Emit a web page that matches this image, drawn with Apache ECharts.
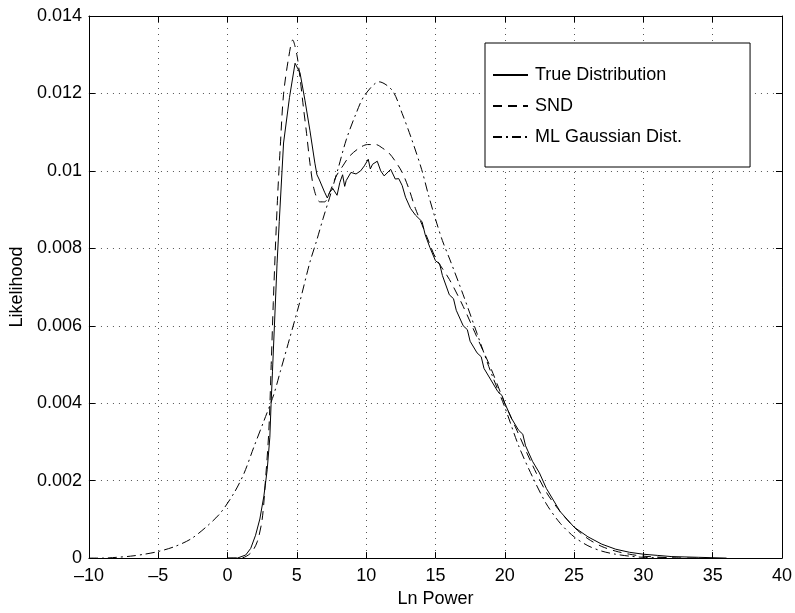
<!DOCTYPE html>
<html>
<head>
<meta charset="utf-8">
<script src="https://cdn.jsdelivr.net/npm/echarts@6/dist/echarts.min.js"></script>
<style>
html,body{margin:0;padding:0;background:#fff;}
#chart{width:795px;height:613px;}
</style>
</head>
<body>
<div id="chart"></div>
<script>
// ---- data ----
const xTicks = [-10, -5, 0, 5, 10, 15, 20, 25, 30, 35, 40];
const yTicks = [0, 0.002, 0.004, 0.006, 0.008, 0.01, 0.012, 0.014];
const seriesNames = ['True Distribution', 'SND', 'ML Gaussian Dist.'];

const trueX = [0, 0.71, 1.31, 1.67, 2.02, 2.33, 2.62, 2.86, 3.05, 3.14, 3.24, 3.57, 3.73, 4.04, 4.47, 4.87, 5.23, 5.59, 5.94, 6.3, 6.45, 6.6, 7.0, 7.2, 7.37, 7.6, 7.9, 8.1, 8.3, 8.45, 8.56, 8.9, 9.27, 9.6, 9.87, 10.15, 10.3, 10.46, 10.8, 11.05, 11.3, 11.77, 12.1, 12.35, 12.6, 12.84, 13.2, 13.55, 14.03, 14.26, 14.6, 15.0, 15.3, 15.5, 16.0, 16.3, 16.5, 17.0, 17.3, 17.5, 18.0, 18.3, 18.5, 19.0, 19.5, 19.8, 20.0, 20.5, 21.0, 21.3, 21.5, 22.0, 22.5, 23.0, 23.5, 24.0, 24.5, 25.0, 26, 27, 28, 29, 30, 31, 32, 33, 34, 35, 36];
const trueY = [0, 0, 0.00008, 0.00025, 0.00059, 0.00101, 0.0016, 0.00228, 0.00312, 0.00397, 0.00481, 0.0076, 0.00869, 0.01072, 0.0119, 0.01278, 0.01253, 0.01181, 0.01105, 0.0102, 0.0099, 0.00979, 0.00945, 0.0093, 0.00945, 0.00954, 0.00937, 0.0097, 0.0099, 0.0096, 0.00975, 0.00996, 0.00992, 0.0100, 0.01013, 0.0103, 0.01005, 0.01017, 0.01025, 0.0100, 0.00987, 0.01004, 0.00979, 0.0098, 0.00962, 0.00932, 0.00903, 0.00886, 0.00869, 0.00835, 0.00802, 0.00768, 0.0076, 0.0073, 0.0068, 0.0067, 0.0064, 0.0060, 0.0059, 0.0056, 0.0053, 0.0052, 0.0049, 0.0046, 0.0043, 0.0042, 0.0040, 0.0036, 0.0033, 0.0032, 0.0029, 0.0025, 0.0022, 0.0018, 0.0015, 0.0012, 0.0010, 0.0008, 0.00055, 0.00036, 0.00023, 0.00015, 0.0001, 0.00007, 0.00004, 0.00003, 0.00002, 0.00001, 0];

const sndX = [0, 0.95, 1.67, 2.14, 2.5, 2.74, 2.98, 3.15, 3.3, 3.45, 3.62, 3.8, 4.04, 4.4, 4.7, 5.0, 5.23, 5.47, 5.7, 5.94, 6.23, 6.66, 7.0, 7.37, 7.85, 8.32, 8.8, 9.5, 10.1, 10.7, 11.17, 11.65, 12.1, 12.6, 13.08, 13.55, 14.03, 14.5, 15.0, 16, 17, 18, 19, 20, 21, 22, 23, 24, 25, 26, 27, 28, 29, 30, 32, 34];
const sndY = [0, 0, 0.00013, 0.00042, 0.00101, 0.00203, 0.0033, 0.0050, 0.0066, 0.0080, 0.0094, 0.0106, 0.01198, 0.01291, 0.01338, 0.0130, 0.0124, 0.01165, 0.01097, 0.01021, 0.00954, 0.0092, 0.0092, 0.00945, 0.00987, 0.01013, 0.01038, 0.01059, 0.01068, 0.01068, 0.01059, 0.01046, 0.01025, 0.00996, 0.00954, 0.00903, 0.00861, 0.00819, 0.00776, 0.0072, 0.0065, 0.0057, 0.0049, 0.0040, 0.0032, 0.0024, 0.0017, 0.0012, 0.0008, 0.0005, 0.0003, 0.00018, 0.0001, 0.00005, 0.00001, 0];

const mlX = [-10, -9, -8, -7, -6, -5, -3.8, -2.62, -1.43, -0.48, 0.48, 1.19, 1.9, 2.62, 3.33, 3.8, 4.5, 5.2, 5.94, 6.42, 6.9, 7.37, 7.96, 8.56, 9.27, 9.87, 10.94, 11.9, 12.6, 13.3, 14.0, 14.5, 14.98, 15.5, 16.05, 17, 18, 19, 20, 21, 22, 23, 24, 25, 26, 27, 28, 29, 30, 32];
const mlY = [0, 0, 0.00002, 0.00005, 0.0001, 0.00017, 0.0003, 0.0005, 0.00084, 0.00118, 0.00169, 0.00219, 0.00287, 0.00354, 0.00422, 0.00481, 0.0057, 0.0066, 0.00764, 0.00819, 0.00878, 0.00932, 0.01004, 0.0108, 0.01148, 0.01194, 0.0123, 0.01207, 0.01148, 0.0108, 0.01004, 0.00937, 0.00878, 0.0082, 0.0077, 0.0068, 0.0058, 0.0048, 0.0039, 0.0029, 0.0021, 0.0014, 0.0009, 0.00055, 0.00032, 0.00018, 0.0001, 0.00005, 0.00002, 0];

function zip(xs, ys) { return xs.map((x, i) => [x, ys[i]]); }

const FONT = 'Liberation Sans, Arial, Helvetica, sans-serif';
const gridLine = { show: true, lineStyle: { color: '#555', width: 1, type: [1, 5] } };
const axisLine = { show: true, onZero: false, lineStyle: { color: '#000', width: 1 } };
const tick = { show: true, inside: true, length: 6, lineStyle: { color: '#000', width: 1 } };

const chart = echarts.init(document.getElementById('chart'), null, { renderer: 'canvas' });
chart.setOption({
  backgroundColor: '#fff',
  animation: false,
  textStyle: { fontFamily: FONT },
  grid: { left: 83, top: 16, width: 701, height: 554, containLabel: false },
  legend: {
    orient: 'vertical',
    left: 485, top: 43,
    data: seriesNames,
    itemWidth: 35, itemHeight: 14, itemGap: 13,
    padding: [23, 68, 21, 7],
    borderColor: '#000', borderWidth: 1,
    backgroundColor: '#fff',
    itemStyle: { opacity: 0, borderWidth: 0 },
    textStyle: { fontSize: 18, color: '#000', fontFamily: FONT, padding: [0, 0, 0, 2] },
    selectedMode: false
  },
  xAxis: [{
    type: 'value', min: xTicks[0], max: xTicks[xTicks.length - 1], interval: xTicks[1] - xTicks[0],
    position: 'bottom',
    name: 'Ln Power', nameLocation: 'middle', nameGap: 26,
    nameTextStyle: { fontSize: 18, color: '#000', fontFamily: FONT },
    axisLine: axisLine, axisTick: tick, splitLine: gridLine,
    axisLabel: { fontSize: 18, color: '#000', margin: 9, fontFamily: FONT,
      formatter: v => (v < 0 ? '\u2013' + Math.abs(v) : String(v)) }
  }, {
    type: 'value', min: xTicks[0], max: xTicks[xTicks.length - 1], interval: xTicks[1] - xTicks[0],
    position: 'top', axisLine: axisLine, axisTick: tick, splitLine: { show: false },
    axisLabel: { show: false }
  }],
  yAxis: [{
    type: 'value', min: yTicks[0], max: yTicks[yTicks.length - 1], interval: yTicks[1] - yTicks[0],
    position: 'left',
    name: 'Likelihood', nameLocation: 'middle', nameGap: 55, nameRotate: 90,
    nameTextStyle: { fontSize: 18, color: '#000', fontFamily: FONT },
    axisLine: axisLine, axisTick: tick, splitLine: gridLine,
    axisLabel: { fontSize: 18, color: '#000', margin: 7, fontFamily: FONT,
      formatter: v => String(parseFloat(v.toFixed(3))) }
  }, {
    type: 'value', min: yTicks[0], max: yTicks[yTicks.length - 1], interval: yTicks[1] - yTicks[0],
    position: 'right', axisLine: axisLine, axisTick: tick, splitLine: { show: false },
    axisLabel: { show: false }
  }],
  series: [{
    name: seriesNames[0], type: 'line', data: zip(trueX, trueY),
    symbol: 'none', smooth: false,
    lineStyle: { color: '#000', width: 1, type: 'solid' },
    itemStyle: { color: '#000' }, z: 5
  }, {
    name: seriesNames[1], type: 'line', data: zip(sndX, sndY),
    symbol: 'none', smooth: 0.3,
    lineStyle: { color: '#000', width: 1, type: [9, 6] },
    itemStyle: { color: '#000' }, z: 4
  }, {
    name: seriesNames[2], type: 'line', data: zip(mlX, mlY),
    symbol: 'none', smooth: 0.3,
    lineStyle: { color: '#000', width: 1, type: [9, 4, 2, 4] },
    itemStyle: { color: '#000' }, z: 3
  }]
});
</script>
</body>
</html>
